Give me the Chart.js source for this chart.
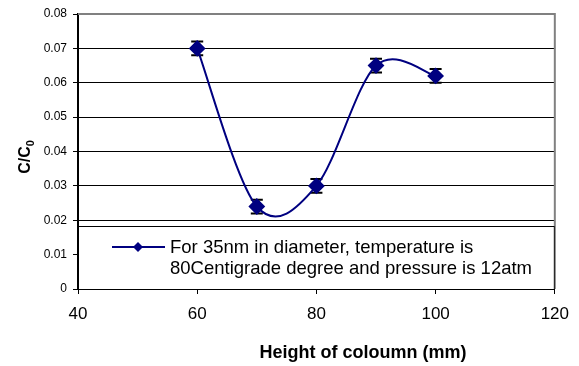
<!DOCTYPE html>
<html>
<head>
<meta charset="utf-8">
<script src="https://cdn.jsdelivr.net/npm/chart.js@4"></script>
<style>
  html, body { margin: 0; padding: 0; background: #fff; }
  #wrap { width: 579px; height: 366px; }
</style>
</head>
<body>
<div id="wrap"><canvas id="chart" width="579" height="366"></canvas></div>
<script>
// data
const heights = [60, 70, 80, 90, 100];
const ratios = [0.070, 0.024, 0.030, 0.065, 0.062];
const errors = [0.002, 0.002, 0.002, 0.002, 0.002];
const legendLines = ['For 35nm in diameter, temperature is', '80Centigrade degree and pressure is 12atm'];
const xTitle = 'Height of coloumn (mm)';

const navy = '#000080';
const font = '"Liberation Sans", Arial, sans-serif';

// Excel style smoothing: tangent = (next - prev) / 6 at each point
const excelSmooth = {
    id: 'excelSmooth',
    beforeDatasetDraw(chart, args) {
        const pts = args.meta.data;
        const n = pts.length;
        for (let i = 0; i < n; i++) {
            const p = pts[i];
            const prev = pts[Math.max(i - 1, 0)];
            const next = pts[Math.min(i + 1, n - 1)];
            const dx = (next.x - prev.x) / 6, dy = (next.y - prev.y) / 6;
            p.cp1x = p.x - dx; p.cp1y = p.y - dy;
            p.cp2x = p.x + dx; p.cp2y = p.y + dy;
        }
        args.meta.dataset._pointsUpdated = true;
    }
};

// error bars under the markers
const errorBars = {
    id: 'errorBars',
    beforeDatasetsDraw(chart) {
        const ctx = chart.ctx, xs = chart.scales.x, ys = chart.scales.y;
        ctx.save();
        ctx.strokeStyle = '#000';
        ctx.lineWidth = 2;
        heights.forEach((h, i) => {
            const px = xs.getPixelForValue(h);
            const top = ys.getPixelForValue(ratios[i] + errors[i]);
            const bot = ys.getPixelForValue(ratios[i] - errors[i]);
            ctx.beginPath();
            ctx.moveTo(px, top); ctx.lineTo(px, bot);
            ctx.moveTo(px - 6, top); ctx.lineTo(px + 6, top);
            ctx.moveTo(px - 6, bot); ctx.lineTo(px + 6, bot);
            ctx.stroke();
        });
        ctx.restore();
    }
};

// legend box sits inside the plot, titles drawn by hand (subscript on C0)
const extras = {
    id: 'extras',
    afterDatasetsDraw(chart) {
        const ctx = chart.ctx, a = chart.chartArea;
        ctx.save();
        // legend box
        const bx = a.left, by = 226, bw = a.right - a.left, bh = a.bottom - by;
        ctx.fillStyle = '#fff';
        ctx.fillRect(bx, by, bw, bh);
        ctx.strokeStyle = '#000';
        ctx.lineWidth = 1;
        ctx.strokeRect(bx + 0.5, by + 0.5, bw - 1, bh);
        // sample line + diamond
        ctx.strokeStyle = navy;
        ctx.lineWidth = 2;
        ctx.beginPath();
        ctx.moveTo(112, 247); ctx.lineTo(165, 247);
        ctx.stroke();
        ctx.fillStyle = navy;
        ctx.beginPath();
        ctx.moveTo(138, 242); ctx.lineTo(143, 247); ctx.lineTo(138, 252); ctx.lineTo(133, 247);
        ctx.closePath();
        ctx.fill();
        // legend text
        ctx.fillStyle = '#000';
        ctx.font = '18.5px ' + font;
        ctx.textBaseline = 'middle';
        ctx.textAlign = 'left';
        ctx.fillText(legendLines[0], 170, 248);
        ctx.fillText(legendLines[1], 170, 269);
        ctx.restore();
    },
    afterDraw(chart) {
        const ctx = chart.ctx;
        ctx.save();
        ctx.fillStyle = '#000';
        // x title
        ctx.font = 'bold 18px ' + font;
        ctx.textAlign = 'center';
        ctx.textBaseline = 'middle';
        ctx.fillText(xTitle, 363, 353);
        // y title, rotated, with subscript 0
        ctx.translate(26, 157);
        ctx.rotate(-Math.PI / 2);
        ctx.textAlign = 'left';
        const main = 'C/C';
        ctx.font = 'bold 16px ' + font;
        const w = ctx.measureText(main).width;
        ctx.font = 'bold 11px ' + font;
        const sw = ctx.measureText('0').width;
        const x0 = -(w + sw) / 2;
        ctx.font = 'bold 16px ' + font;
        ctx.fillText(main, x0, 0);
        ctx.font = 'bold 11px ' + font;
        ctx.fillText('0', x0 + w, 5);
        ctx.restore();
    }
};

// plot border: gray top and right edge
const border = {
    id: 'border',
    beforeDatasetsDraw(chart) {
        const ctx = chart.ctx, a = chart.chartArea;
        ctx.save();
        ctx.strokeStyle = '#808080';
        ctx.lineWidth = 2;
        ctx.beginPath();
        ctx.moveTo(a.left, a.top); ctx.lineTo(a.right, a.top); ctx.lineTo(a.right, a.bottom);
        ctx.stroke();
        ctx.restore();
    }
};

new Chart(document.getElementById('chart'), {
    type: 'line',
    data: {
        datasets: [{
            label: legendLines.join(' '),
            data: heights.map((h, i) => ({ x: h, y: ratios[i] })),
            borderColor: navy,
            backgroundColor: navy,
            borderWidth: 2,
            pointStyle: 'rectRot',
            pointRadius: 7,
            pointHoverRadius: 7,
            tension: 0.3
        }]
    },
    options: {
        responsive: false,
        animation: false,
        layout: { padding: { left: 0, right: 23, top: 14, bottom: 0 } },
        plugins: { legend: { display: false }, tooltip: { enabled: false } },
        scales: {
            x: {
                type: 'linear',
                min: 40, max: 120,
                afterFit: s => { s.height = 77; },
                ticks: { stepSize: 20, color: '#000', padding: 10,
                         font: { family: font, size: 17 } },
                grid: { drawOnChartArea: false, color: '#000', tickLength: 5 },
                border: { color: '#000', width: 1 }
            },
            y: {
                min: 0, max: 0.08,
                afterFit: s => { s.width = 78; },
                ticks: { stepSize: 0.01, color: '#000', padding: 6,
                         callback: v => v === 0 ? '0' : v.toFixed(2),
                         font: { family: font, size: 12 } },
                grid: { color: '#000', lineWidth: 1, tickLength: 5 },
                border: { color: '#000', width: 2 }
            }
        }
    },
    plugins: [border, errorBars, excelSmooth, extras]
});
</script>
</body>
</html>
